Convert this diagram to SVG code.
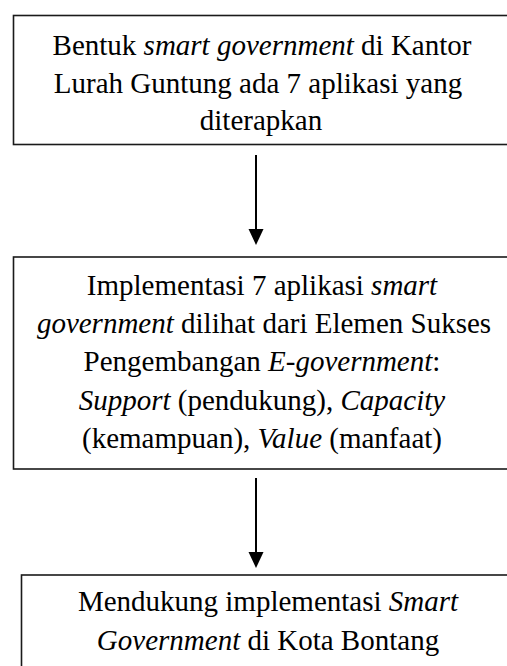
<svg xmlns="http://www.w3.org/2000/svg" width="507" height="666" viewBox="0 0 507 666">
<style>
.box{fill:#fff;stroke:#1a1a1a;stroke-width:1.6}
.t{font-family:"Liberation Serif","Times New Roman",serif;font-size:29px;fill:#000;text-anchor:middle}
.i{font-style:italic}
.c{stroke:#000;stroke-width:2;fill:none}
</style>
<defs>
<marker id="ah" markerUnits="userSpaceOnUse" markerWidth="16" markerHeight="18" refX="8" refY="16" orient="auto-start-reverse" viewBox="0 0 16 18">
<path d="M1,0 L15,0 L8,16 Z" fill="#000" transform="rotate(0)"/>
</marker>
</defs>
<rect width="507" height="666" fill="#fff"/>
<g id="node1">
<rect class="box" x="13.5" y="15.5" width="520" height="129"/>
<text class="t" x="262" y="55">Bentuk <tspan class="i">smart government</tspan> di Kantor</text>
<text class="t" x="258" y="92.5">Lurah Guntung ada 7 aplikasi yang</text>
<text class="t" x="261" y="130">diterapkan</text>
</g>
<g id="node2">
<rect class="box" x="13.5" y="257" width="520" height="212"/>
<text class="t" x="262" y="295">Implementasi 7 aplikasi <tspan class="i">smart</tspan></text>
<text class="t" x="264" y="333"><tspan class="i">government</tspan> dilihat dari Elemen Sukses</text>
<text class="t" x="262" y="371">Pengembangan <tspan class="i">E-government</tspan>:</text>
<text class="t" x="262" y="410"><tspan class="i">Support</tspan> (pendukung), <tspan class="i">Capacity</tspan></text>
<text class="t" x="262" y="448">(kemampuan), <tspan class="i">Value</tspan> (manfaat)</text>
</g>
<g id="node3">
<rect class="box" x="21.5" y="575" width="520" height="120"/>
<text class="t" x="268" y="611">Mendukung implementasi <tspan class="i">Smart</tspan></text>
<text class="t" x="268" y="650"><tspan class="i">Government</tspan> di Kota Bontang</text>
</g>
<g id="connectors">
<line class="c" x1="256" y1="155" x2="256" y2="230"/>
<path d="M248.5,229 L263.5,229 L256,245 Z" fill="#000"/>
<line class="c" x1="256" y1="478" x2="256" y2="553"/>
<path d="M248.5,552 L263.5,552 L256,568 Z" fill="#000"/>
</g>
</svg>
